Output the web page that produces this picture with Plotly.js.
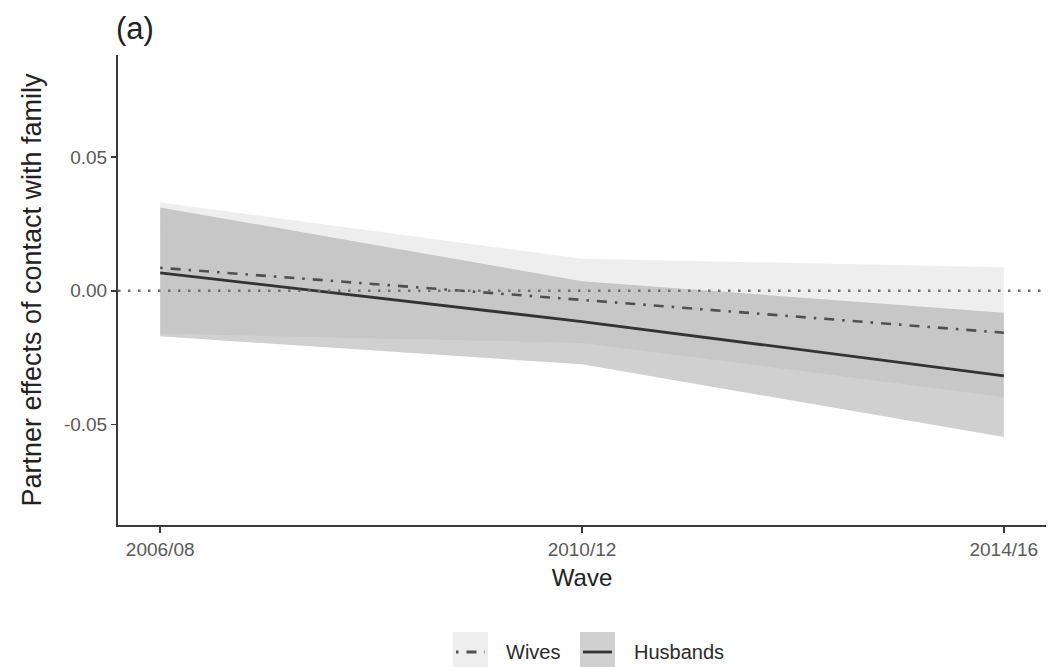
<!DOCTYPE html>
<html>
<head>
<meta charset="utf-8">
<script src="https://cdn.plot.ly/plotly-3.0.1.min.js"></script>
<style>
  html, body { margin: 0; padding: 0; background: #fff; }
  #chart { width: 1050px; height: 667px; }
</style>
</head>
<body>
<div id="chart"></div>
<script>
// Survey waves (x categories)
const waves = ['2006/08', '2010/12', '2014/16'];

// Wives: estimate and confidence band
const wivesEst = [0.0086, -0.0034, -0.0157];
const wivesLo  = [-0.0160, -0.0195, -0.0397];
const wivesHi  = [0.0330, 0.0120, 0.0088];

// Husbands: estimate and confidence band
const husbEst = [0.0067, -0.0115, -0.0318];
const husbLo  = [-0.0170, -0.0275, -0.0547];
const husbHi  = [0.0312, 0.0036, -0.0082];

// Y tick labels
const yTickVals = [-0.05, 0, 0.05];
const yTickText = ['-0.05', '0.00', '0.05'];

const seriesNames = ['Wives', 'Husbands'];

// Plot-area geometry in pixels (used for the hand-built legend)
const W = 1050, H = 667;
const M = { l: 118, r: 4, t: 55, b: 142 };
const plotW = W - M.l - M.r, plotH = H - M.t - M.b;
const px = x => (x - M.l) / plotW;
const py = y => (H - M.b - y) / plotH;

const wivesFill = 'rgba(200,200,200,0.30)';
const husbFill  = 'rgba(150,150,150,0.45)';
const dotdash = '2.5px,8px,10px,8px';

const traces = [
  { x: waves, y: wivesLo, mode: 'lines', line: { width: 0 }, showlegend: false, hoverinfo: 'skip' },
  { x: waves, y: wivesHi, mode: 'lines', line: { width: 0 }, fill: 'tonexty', fillcolor: wivesFill, showlegend: false, hoverinfo: 'skip' },
  { x: waves, y: husbLo, mode: 'lines', line: { width: 0 }, showlegend: false, hoverinfo: 'skip' },
  { x: waves, y: husbHi, mode: 'lines', line: { width: 0 }, fill: 'tonexty', fillcolor: husbFill, showlegend: false, hoverinfo: 'skip' },
  { x: waves, y: wivesEst, name: seriesNames[0], mode: 'lines', line: { color: '#505050', width: 2.6, dash: dotdash }, showlegend: false },
  { x: waves, y: husbEst, name: seriesNames[1], mode: 'lines', line: { color: '#333333', width: 2.8 }, showlegend: false }
];

// Legend keys drawn as shapes
const keyY0 = 632, keyY1 = 667, keyMid = 652;
const keys = [
  { x0: 453, x1: 488, fill: wivesFill, dash: dotdash, color: '#505050' },
  { x0: 580, x1: 615, fill: husbFill, dash: 'solid', color: '#333333' }
];

const shapes = [
  // zero reference line
  { type: 'line', xref: 'paper', x0: 0, x1: 1, yref: 'y', y0: 0, y1: 0, layer: 'above',
    line: { color: '#707070', width: 2.4, dash: '2.5px,7.5px' } }
];
keys.forEach(k => {
  shapes.push({ type: 'rect', xref: 'paper', yref: 'paper', x0: px(k.x0), x1: px(k.x1), y0: py(keyY1), y1: py(keyY0),
    fillcolor: k.fill, line: { width: 0 }, layer: 'above' });
  shapes.push({ type: 'line', xref: 'paper', yref: 'paper', x0: px(k.x0 + 3), x1: px(k.x1 - 3), y0: py(keyMid), y1: py(keyMid),
    line: { color: k.color, width: 2.8, dash: k.dash }, layer: 'above' });
});

const legendFont = { family: 'Liberation Sans, Arial, sans-serif', size: 20, color: '#2a2a2a' };
const annotations = [
  { text: seriesNames[0], xref: 'paper', yref: 'paper', x: px(504), y: py(keyMid), xanchor: 'left', yanchor: 'middle',
    showarrow: false, font: legendFont },
  { text: seriesNames[1], xref: 'paper', yref: 'paper', x: px(632), y: py(keyMid), xanchor: 'left', yanchor: 'middle',
    showarrow: false, font: legendFont }
];

const layout = {
  width: W, height: H,
  margin: M,
  paper_bgcolor: '#fff', plot_bgcolor: '#fff',
  font: { family: 'Liberation Sans, Arial, sans-serif', color: '#222' },
  showlegend: false,
  title: { text: '(a)', xref: 'container', yref: 'container', x: 116 / W, xanchor: 'left',
           y: 1 - 28 / H, yanchor: 'middle', font: { size: 31, color: '#222' } },
  xaxis: {
    type: 'category', range: [-0.1, 2.1],
    showgrid: false, zeroline: false,
    showline: true, linecolor: '#3a3a3a', linewidth: 2,
    ticks: 'outside', ticklen: 6, tickwidth: 1.6, tickcolor: '#3a3a3a',
    tickfont: { size: 19, color: '#595959' },
    title: { text: 'Wave', font: { size: 24, color: '#222' }, standoff: 10 }
  },
  yaxis: {
    range: [-0.0876, 0.0882],
    tickvals: yTickVals, ticktext: yTickText,
    showgrid: false, zeroline: false,
    showline: true, linecolor: '#3a3a3a', linewidth: 2,
    ticks: 'outside', ticklen: 5, tickwidth: 1.6, tickcolor: '#3a3a3a',
    tickfont: { size: 19, color: '#595959' },
    ticklabelstandoff: 0,
    title: { text: 'Partner effects of contact with family', font: { size: 27, color: '#222' }, standoff: 14 }
  },
  shapes: shapes,
  annotations: annotations
};

Plotly.newPlot('chart', traces, layout, { displayModeBar: false, staticPlot: true });
</script>
</body>
</html>
